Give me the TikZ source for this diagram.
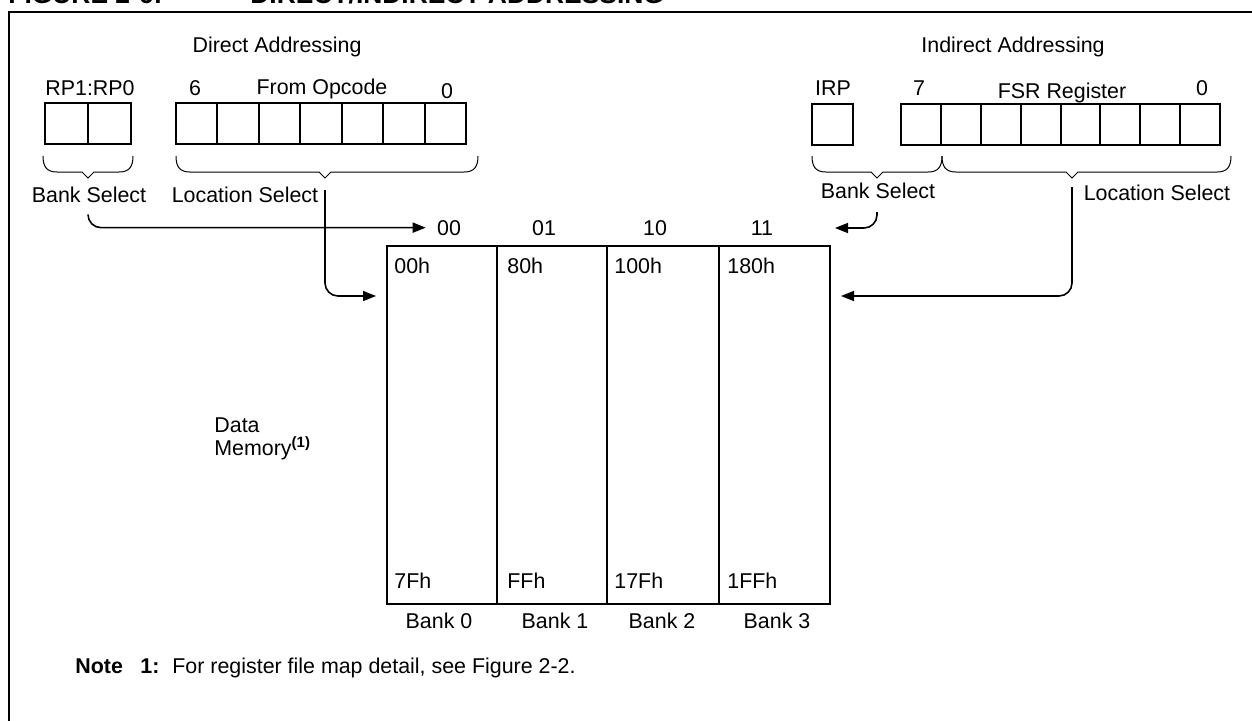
\documentclass[tikz,border=0pt]{standalone}
\usepackage{fontspec}
\setmainfont{Liberation Sans}
\usetikzlibrary{arrows.meta, calc}

\begin{document}
\begin{tikzpicture}[x=0.5pt, y=-0.5pt,
  every node/.style={font=\fontsize{10.7}{12.8}\selectfont, inner sep=0pt},
  lbl/.style={anchor=base},
  boldlbl/.style={anchor=base west, font=\fontsize{10.7}{12.8}\selectfont\bfseries},
  ttl/.style={anchor=base west, font=\fontsize{13.2}{15}\selectfont\bfseries},
  bitbox/.style={line width=1pt},
  brc/.style={line width=0.5pt},
  memline/.style={line width=1pt},
  conn/.style={line width=0.8pt, rounded corners=6.5pt, -{Triangle[length=6.5pt, width=5pt]}}]

\useasboundingbox (0,0) rectangle (1252,720);

% Caption (cut at the top) and frame
\node[ttl] (figno) at (8,3) {FIGURE 2-6:};
\node[ttl] (figname) at (250,3) {DIRECT/INDIRECT ADDRESSING};
\draw[line width=1pt] (1270,11.5) -- (9,11.5) -- (9,740);

% Direct addressing
\node[lbl] (dirttl) at (277,52) {Direct Addressing};
\node[lbl] (rpbits) at (90,95.5) {RP1:RP0};
\node[lbl] (opc6) at (195,95.5) {6};
\node[lbl] (opcttl) at (322,94) {From Opcode};
\node[lbl] (opc0) at (447,98.5) {0};
\draw[bitbox] (45,103) rectangle (131,144);
\draw[bitbox] (88,103) -- (88,144);
\foreach \i in {0,...,6}
  \draw[bitbox] (176+\i*41.43,103) rectangle ++(41.43,41);

% Indirect addressing
\node[lbl] (indttl) at (1013,52) {Indirect Addressing};
\node[lbl] (irpbit) at (833,95.5) {IRP};
\node[lbl] (fsr7) at (919,95.5) {7};
\node[lbl] (fsrttl) at (1062,98) {FSR Register};
\node[lbl] (fsr0) at (1202,95.5) {0};
\draw[bitbox] (812,104) rectangle (853,145);
\foreach \i in {0,...,7}
  \draw[bitbox] (901+\i*39.875,104) rectangle ++(39.875,41);

% Braces under the registers
\foreach \a/\t/\b in {43/88/133, 176/325/478, 812/877/942, 942/1072/1231}
  \draw[brc] (\a,156) .. controls (\a,167) and (\a+4,172) .. (\a+14,172)
    -- (\t-6,172) -- (\t,178) -- (\t+6,172) -- (\b-14,172)
    .. controls (\b-4,172) and (\b,167) .. (\b,156);

\node[lbl] (bankL) at (89,202) {Bank Select};
\node[lbl] (locL) at (245,202) {Location Select};
\node[lbl] (bankR) at (878,198) {Bank Select};
\node[lbl] (locR) at (1157,200) {Location Select};

% Data memory banks
\node[draw, memline, minimum width=221.5pt, minimum height=179pt, anchor=north west] (mem) at (386,245) {};
\foreach \x in {497,607,719}
  \draw[memline] (\x,245) -- (\x,603);
\foreach \x/\adrA/\adrB in {394/00h/7Fh, 507/80h/FFh, 614/100h/17Fh, 727/180h/1FFh} {
  \node[anchor=base west] (a\adrA) at (\x,273) {\adrA};
  \node[anchor=base west] (a\adrB) at (\x,588) {\adrB};
}
\foreach \x/\k in {439/0, 555/1, 662/2, 777/3}
  \node[lbl] (bank\k) at (\x,628) {Bank \k};
\foreach \x/\code in {449/00, 544/01, 655/10, 762/11}
  \node[lbl] (c\code) at (\x,235) {\code};

\node[anchor=base west] (dmemA) at (214,432) {Data};
\node[anchor=base west] (dmemB) at (214,455) {Memory\textsuperscript{\bfseries(1)}};

% Select paths
\coordinate (bankLout) at (88,215);
\coordinate (bankRout) at (877,212);
\coordinate (bankRin) at (835,228);
\coordinate (locLout) at (325,190);
\coordinate (locRout) at (1072,187);
\draw[conn] (bankLout) |- ($(c00.west)+(-11,0)$);
\draw[conn] (bankRout) |- (bankRin);
\draw[conn] (locLout) |- ($(mem.north west)+(-10,51)$);
\draw[conn] (locRout) |- ($(mem.north east)+(10,51)$);

% Note
\node[boldlbl] (notehd) at (75,673) {Note};
\node[boldlbl] (notenum) at (140,673) {1:};
\node[anchor=base west] (notetxt) at (172,673) {For register file map detail, see Figure 2-2.};
\end{tikzpicture}
\end{document}
